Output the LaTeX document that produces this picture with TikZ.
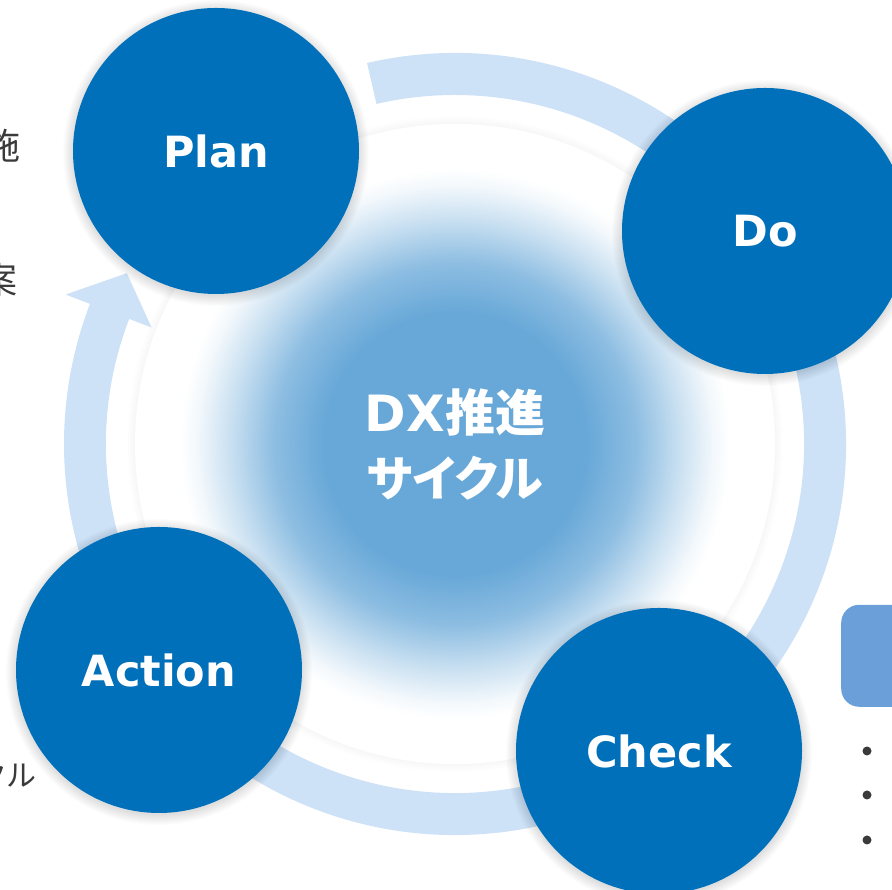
\documentclass[tikz,border=0pt]{standalone}
\usepackage{fontspec}
\newfontfamily\cjkfont{Noto Sans CJK JP}
\newfontfamily\cjkpalt{Noto Sans CJK JP}[RawFeature=+palt]
\newfontfamily\labfont{DejaVu Sans}
\definecolor{circblue}{HTML}{0070BA}
\definecolor{ringblue}{HTML}{CDE1F7}
\definecolor{glowblue}{HTML}{68A8D8}
\colorlet{glowa}{glowblue!75!white}
\colorlet{glowb}{glowblue!35!white}
\colorlet{glowc}{glowblue!8!white}
\definecolor{boxblue}{HTML}{6A9FD9}
\definecolor{txtgray}{HTML}{3A3A3A}
\pgfdeclareradialshading{dxglow}{\pgfpoint{0bp}{0bp}}{color(0bp)=(glowblue); color(12bp)=(glowblue); color(16.5bp)=(glowa); color(20.5bp)=(glowb); color(23.5bp)=(glowc); color(25bp)=(white); color(50bp)=(white)}
\pgfdeclarelayer{basebg}
\pgfdeclarelayer{shadowbg}
\pgfsetlayers{basebg,shadowbg,main}
\begin{document}
\begin{tikzpicture}[x=1pt,y=1pt,
  stage/.style={circle, fill=circblue, minimum size=286pt, inner sep=0pt, text=white,
    font=\labfont\bfseries\fontsize{43}{50}\selectfont},
  sidetext/.style={anchor=east, inner sep=0pt, text=txtgray},
  bulletdot/.style={circle, fill=txtgray, minimum size=9pt, inner sep=0pt}]
\useasboundingbox (0,0) rectangle (892,890);
\clip (0,0) rectangle (892,890);
\coordinate (C) at (455,446);
\begin{pgfonlayer}{basebg}
% faint halo and central glow
\foreach \k in {1,...,8}{\fill[black, opacity=0.005] (C) circle[radius=320pt+\k pt];}
\fill[white] (C) circle[radius=320pt];
\shade[shading=dxglow] (C) circle[radius=275pt];
% cycle ring with arrowhead
\fill[ringblue, shift={(455,446)}] (103:391pt) arc[start angle=103, end angle=-201, radius=391pt]
  -- (159:417pt) -- (152.5:370pt) -- (159:325pt) -- (159:349pt)
  arc[start angle=-201, end angle=103, radius=349pt] -- cycle;
\end{pgfonlayer}
% stages
\node[stage] (plan) at (216,739) {Plan};
\node[stage] (do) at (765,659) {Do};
\node[stage] (check) at (659,139) {Check};
\node[stage] (action) at (159,220) {Action};
% soft shadows under the stages
\begin{pgfonlayer}{shadowbg}
\foreach \n in {plan,do,check,action}{
  \foreach \k in {1,...,11}{
    \fill[black, opacity=0.013] ([yshift=-2pt]\n.center) circle[radius=142pt+\k pt];
  }
}
\end{pgfonlayer}
% centre text
\node[text=white, align=center, inner sep=0pt, font=\cjkfont\bfseries\fontsize{50}{65}\selectfont] (dx) at (C)
  {{\labfont\bfseries DX}推進\\{\cjkpalt\bfseries\fontsize{48}{65}\selectfont サイクル}};
% clipped side texts
\node[sidetext, font=\cjkfont\fontsize{36}{40}\selectfont] (t1) at (21,744.5) {施};
\node[sidetext, font=\cjkfont\fontsize{36}{40}\selectfont] (t2) at (18,610) {案};
\node[sidetext, font=\cjkfont\fontsize{30}{34}\selectfont] (t3) at (37,114.5) {クル};
% right box and bullets
\node[fill=boxblue, rounded corners=18pt, minimum width=119pt, minimum height=102pt, anchor=south west, inner sep=0pt] (box) at (841,183) {};
\node[bulletdot] (b1) at (867,139) {};
\node[bulletdot] (b2) at (867,95) {};
\node[bulletdot] (b3) at (867,50) {};
\end{tikzpicture}
\end{document}
